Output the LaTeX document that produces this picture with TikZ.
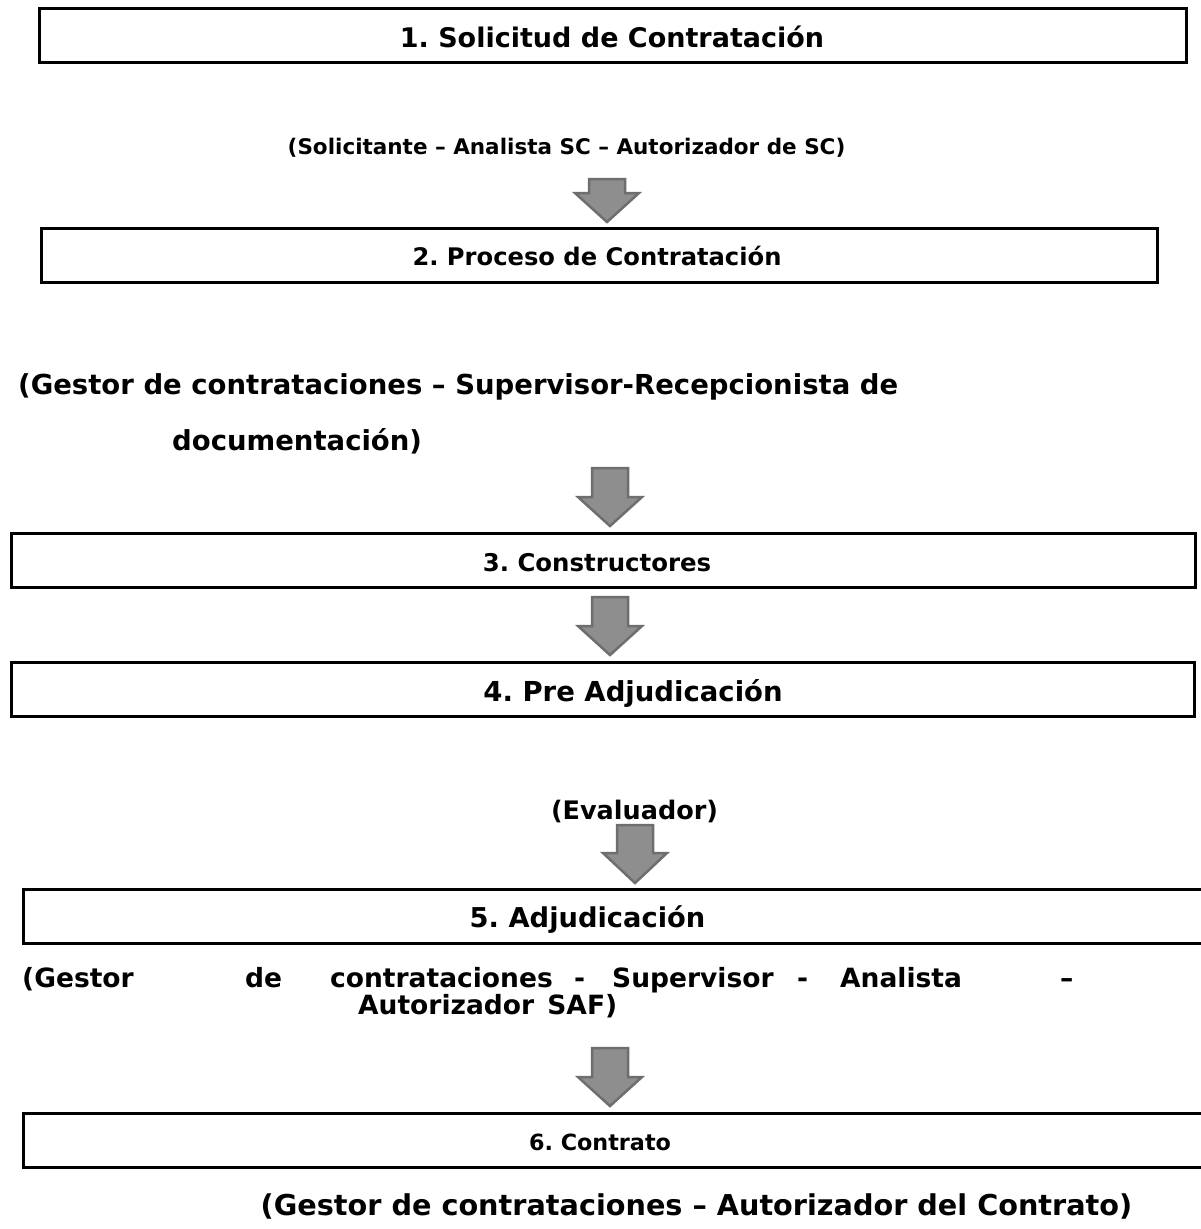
\documentclass[tikz,border=0pt]{standalone}
\usepackage{fontspec}
\setmainfont{DejaVu Sans}
\newcommand{\fs}[1]{\bfseries\fontsize{#1}{#1}\selectfont\frenchspacing}
\begin{document}
\begin{tikzpicture}[x=1pt,y=-1pt,
  box/.style={draw=black,line width=3pt,minimum height=54pt,inner sep=0pt},
  txt/.style={inner sep=0pt,anchor=base},
  txtw/.style={inner sep=0pt,anchor=base west},
  barrow/.style={fill=arrowfill,draw=arrowline,line width=2.5pt,line join=miter}]
\definecolor{arrowfill}{HTML}{8E8E8E}
\definecolor{arrowline}{HTML}{6E6E6E}
\useasboundingbox[fill=white] (0,0) rectangle (1200,1229);
% boxes
\node[box,minimum width=1147pt] (b1) at (612.5,35) {};
\node[box,minimum width=1116pt] (b2) at (599,255) {};
\node[box,minimum width=1184pt] (b3) at (603,560.5) {};
\node[box,minimum width=1183pt] (b4) at (602.5,689.5) {};
\node[box,minimum width=1180pt] (b5) at (613,916) {};
\node[box,minimum width=1180pt] (b6) at (613,1140.5) {};
% box titles
\node[txt,font=\fs{27}] (t1) at (612,47.7) {1. Solicitud de Contratación};
\node[txt,font=\fs{24.2}] (t2) at (597,265.7) {2. Proceso de Contratación};
\node[txt,font=\fs{24.4}] (t3) at (597,571.8) {3. Constructores};
\node[txt,font=\fs{27.5}] (t4) at (633,701.9) {4. Pre Adjudicación};
\node[txt,font=\fs{27.3}] (t5) at (587.5,927.8) {5. Adjudicación};
\node[txt,font=\fs{22.3}] (t6) at (600,1150) {6. Contrato};
% role texts
\node[txt,font=\fs{21.5}] (r1) at (566.5,154.7) {(Solicitante – Analista SC – Autorizador de SC)};
\node[txtw,font=\fs{27.5}] (r2a) at (18,394.9) {(Gestor de contrataciones – Supervisor-Recepcionista de};
\node[txtw,font=\fs{27.5}] (r2b) at (172,450.9) {documentación)};
\node[txt,font=\fs{25.5}] (r4) at (634.5,819.2) {(Evaluador)};
\begin{scope}[every node/.style={txtw,font=\fs{26.5}}]
\node (r5a) at (22,987.4) {(Gestor};
\node (r5b) at (245,987.4) {de};
\node (r5c) at (330,987.4) {contrataciones};
\node (r5d) at (574,987.4) {-};
\node (r5e) at (612,987.4) {Supervisor};
\node (r5f) at (797,987.4) {-};
\node (r5g) at (840,987.4) {Analista};
\node (r5h) at (1060,987.4) {–};
\node (r5i) at (358,1014.4) {Autorizador\hspace{0.5em}SAF)};
\end{scope}
\node[txt,font=\fs{28.7}] (r6) at (696.5,1215.3) {(Gestor de contrataciones – Autorizador del Contrato)};
% block arrows: x, top, head start, tip
\foreach \x/\ta/\hb/\tb in {607/179/193/222, 610/468/497/526, 610/597/626/655, 635/825/853/883, 610/1048/1077/1106}{
  \draw[barrow] (\x-18,\ta) -- (\x+18,\ta) -- (\x+18,\hb) -- (\x+32,\hb) -- (\x,\tb) -- (\x-32,\hb) -- (\x-18,\hb) -- cycle;
}
\end{tikzpicture}
\end{document}
